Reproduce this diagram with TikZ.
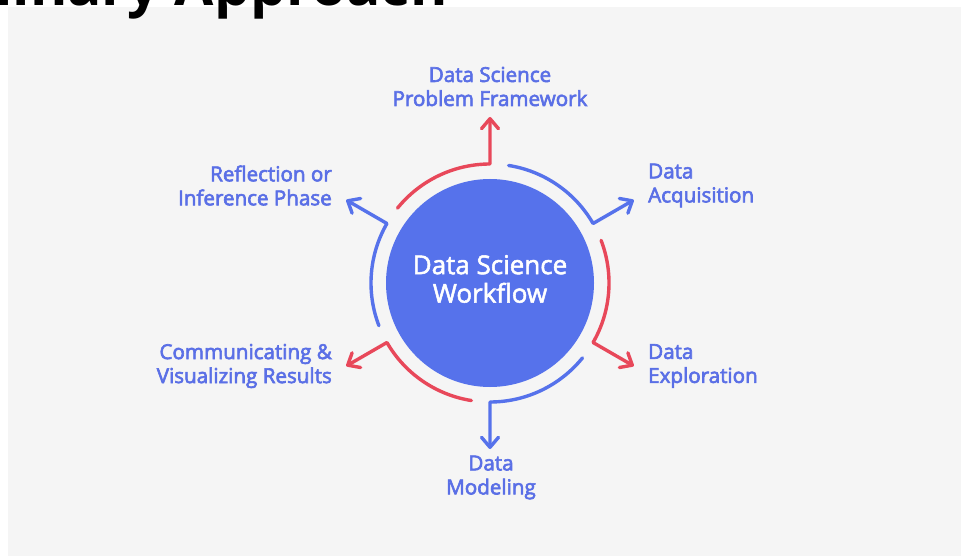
\documentclass[tikz,border=0pt]{standalone}
\usepackage{fontspec}
\setmainfont{Open Sans}
\newfontfamily\semib{Open Sans}[FakeBold=3]
\newfontfamily\medf{Open Sans}[FakeBold=2]
\usetikzlibrary{arrows.meta,calc}
\definecolor{wfblue}{HTML}{5672EB}
\definecolor{wfred}{HTML}{E8485A}
\definecolor{wftext}{HTML}{5A6FE6}
\definecolor{panelgray}{HTML}{F5F5F5}
\begin{document}
\begin{tikzpicture}[x=1pt,y=1pt,
  ring/.style={line width=3.4pt, line cap=round, line join=round,
    -{Straight Barb[length=10pt,width=17pt,line cap=round,line join=round]}},
  lbl/.style={text=wftext, font=\semib\fontsize{20.6}{24}\selectfont, inner sep=0pt},
]
\useasboundingbox (0,0) rectangle (961,-556);
\clip (0,0) rectangle (961,-556);
\fill[white] (0,0) rectangle (961,-556);
\fill[panelgray] (8,-7) rectangle (961,-556);
\node[anchor=base east, inner sep=0pt, font=\bfseries\fontsize{57}{58}\selectfont] (title) at (448,-5.5) {Interdisciplinary Approach};
\coordinate (c) at (490,-283);
\node[circle, fill=wfblue, minimum size=208pt, inner sep=0pt] (hub) at (c) {};
\node[text=white, inner sep=0pt, font=\medf\fontsize{26}{28.5}\selectfont, align=center] (hubtext) at (490,-279) {Data Science\\Workflow};
% labels
\node[lbl, align=center] (frame) at (490,-86.5) {Data Science\\Problem Framework};
\node[lbl, align=left, anchor=west] (acq) at (648,-185.5) {Data\\Acquisition};
\node[lbl, align=left, anchor=west] (expl) at (648,-366) {Data\\Exploration};
\node[lbl, align=center] (model) at (491,-477.5) {Data\\Modeling};
\node[lbl, align=right, anchor=east] (comm) at (332,-366) {Communicating \&\\Visualizing Results};
\node[lbl, align=right, anchor=east] (refl) at (332,-185.5) {Reflection or\\Inference Phase};
% arrow tips
\coordinate (t1) at ($(c)+(90:166)$);
\coordinate (t2) at ($(c)+(30:166)$);
\coordinate (t3) at ($(c)+(-30:166)$);
\coordinate (t4) at ($(c)+(-90:166)$);
\coordinate (t5) at ($(c)+(-150:166)$);
\coordinate (t6) at ($(c)+(150:166)$);
% ring arcs
\draw[ring, wfred]  ($(c)+(141:119)$) arc[start angle=141, end angle=90, radius=119] -- (t1);
\draw[ring, wfblue] ($(c)+(81:119)$) arc[start angle=81, end angle=30, radius=119] -- (t2);
\draw[ring, wfred]  ($(c)+(21:119)$) arc[start angle=21, end angle=-30, radius=119] -- (t3);
\draw[ring, wfblue] ($(c)+(-39:119)$) arc[start angle=-39, end angle=-90, radius=119] -- (t4);
\draw[ring, wfred]  ($(c)+(-99:119)$) arc[start angle=-99, end angle=-150, radius=119] -- (t5);
\draw[ring, wfblue] ($(c)+(201:119)$) arc[start angle=201, end angle=150, radius=119] -- (t6);
\end{tikzpicture}
\end{document}
